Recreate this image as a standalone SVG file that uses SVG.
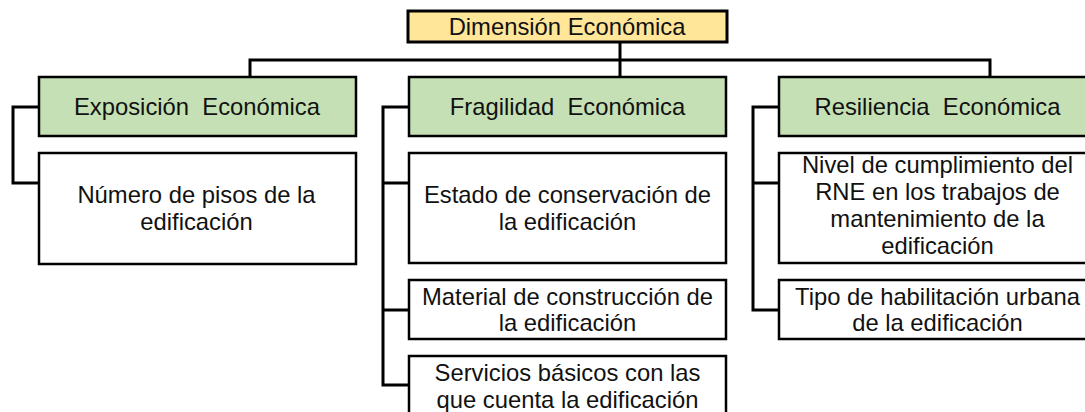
<svg xmlns="http://www.w3.org/2000/svg" width="1085" height="412" viewBox="0 0 1085 412">
<style>
.box{fill:#ffffff;stroke:#000;stroke-width:2.5}
.head{fill:#C5E0B4;stroke:#000;stroke-width:2.5}
.root{fill:#FFE699;stroke:#000;stroke-width:3}
.t{font-family:"Liberation Sans",Arial,sans-serif;font-size:23.8px;fill:#111;text-anchor:middle}
.c{fill:none;stroke:#000;stroke-width:3}
</style>
<rect width="1085" height="412" fill="#ffffff"/>
<g id="connectors">
<path class="c" d="M620,42 V77"/>
<path class="c" d="M250,77 V60 H990 V77"/>
<path class="c" d="M39,107 H13 V183 H39"/>
<path class="c" d="M409,107 H383 V385 H409 M383,183 H409 M383,310 H409"/>
<path class="c" d="M779,107 H753 V310 H779 M753,183 H779"/>
</g>
<g id="root">
<rect class="root" x="408" y="11" width="319" height="31"/>
<text class="t" x="567" y="34.5">Dimensión Económica</text>
</g>
<g id="exposicion">
<rect class="head" x="39" y="77" width="317" height="59"/>
<text class="t" x="197" y="114.5" xml:space="preserve">Exposición  Económica</text>
</g>
<g id="fragilidad">
<rect class="head" x="409" y="77" width="317" height="59"/>
<text class="t" x="567.5" y="114.5" xml:space="preserve">Fragilidad  Económica</text>
</g>
<g id="resiliencia">
<rect class="head" x="779" y="77" width="317" height="59"/>
<text class="t" x="937.5" y="114.5" xml:space="preserve">Resiliencia  Económica</text>
</g>
<g id="numero">
<rect class="box" x="39" y="153" width="317" height="111"/>
<text class="t" x="196.5" y="203">Número de pisos de la</text>
<text class="t" x="196.5" y="230">edificación</text>
</g>
<g id="estado">
<rect class="box" x="409" y="153" width="317" height="110"/>
<text class="t" x="567.5" y="203">Estado de conservación de</text>
<text class="t" x="567.5" y="230">la edificación</text>
</g>
<g id="material">
<rect class="box" x="409" y="280" width="317" height="59"/>
<text class="t" x="567.5" y="305">Material de construcción de</text>
<text class="t" x="567.5" y="331">la edificación</text>
</g>
<g id="servicios">
<rect class="box" x="409" y="356" width="317" height="70"/>
<text class="t" x="567.5" y="381">Servicios básicos con las</text>
<text class="t" x="567.5" y="408">que cuenta la edificación</text>
</g>
<g id="nivel">
<rect class="box" x="779" y="153" width="317" height="110"/>
<text class="t" x="937.5" y="173">Nivel de cumplimiento del</text>
<text class="t" x="937.5" y="200">RNE en los trabajos de</text>
<text class="t" x="937.5" y="227">mantenimiento de la</text>
<text class="t" x="937.5" y="254">edificación</text>
</g>
<g id="tipo">
<rect class="box" x="779" y="280" width="317" height="59"/>
<text class="t" x="937.5" y="305">Tipo de habilitación urbana</text>
<text class="t" x="937.5" y="331">de la edificación</text>
</g>
</svg>
